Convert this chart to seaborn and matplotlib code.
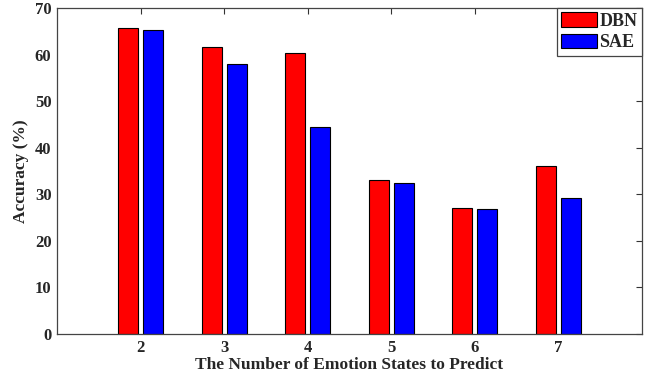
import pandas as pd
import matplotlib
matplotlib.use("Agg")
import matplotlib.pyplot as plt
import seaborn as sns

# ── Data ─────────────────────────────────────────────────────────────────────
states = ["2", "3", "4", "5", "6", "7"]
dbn_acc = [65.8, 61.6, 60.3, 33.0, 27.1, 36.1]
sae_acc = [65.2, 57.9, 44.4, 32.5, 26.9, 29.1]
methods = ["DBN", "SAE"]

df = pd.DataFrame({
    "state": states * 2,
    "acc": dbn_acc + sae_acc,
    "method": [methods[0]] * len(states) + [methods[1]] * len(states),
})

# ── Style ────────────────────────────────────────────────────────────────────
sns.set_style("white")
plt.rcParams["font.family"] = ["Liberation Serif", "DejaVu Serif"]
plt.rcParams["font.weight"] = "bold"

fig, ax = plt.subplots(figsize=(6.51, 3.79), dpi=100)
fig.subplots_adjust(left=0.0876, right=0.9857, top=0.979, bottom=0.1187)

sns.barplot(data=df, x="state", y="acc", hue="method", order=states,
            palette={"DBN": "#ff0000", "SAE": "#0000ff"},
            width=0.6, gap=0.2, edgecolor="black", linewidth=0.8,
            saturation=1, errorbar=None, ax=ax)

ax.set_xlim(-1, 6)
ax.set_ylim(0, 70)
ax.set_yticks(range(0, 71, 10))
ax.set_xlabel("The Number of Emotion States to Predict", fontsize=12.5, fontweight="bold", labelpad=1)
ax.set_ylabel("Accuracy (%)", fontsize=12.5, fontweight="bold", labelpad=4)

ax.tick_params(axis="both", direction="in", length=4, width=0.8, labelsize=12,
               top=True, right=True, color="#333333", pad=4)
for lab in ax.get_xticklabels() + ax.get_yticklabels():
    lab.set_fontweight("bold")
for sp in ax.spines.values():
    sp.set_visible(True)
    sp.set_color("#444444")
    sp.set_linewidth(0.9)

leg = ax.legend(loc="upper right", bbox_to_anchor=(1, 1), borderaxespad=0,
                fancybox=False, edgecolor="#444444", framealpha=1,
                fontsize=13, handlelength=2.0, handleheight=0.85,
                handletextpad=0.1, borderpad=0.25, labelspacing=0.2)
leg.get_frame().set_linewidth(0.9)
for t in leg.get_texts():
    t.set_fontweight("bold")

fig.savefig("out.png", dpi=100)
